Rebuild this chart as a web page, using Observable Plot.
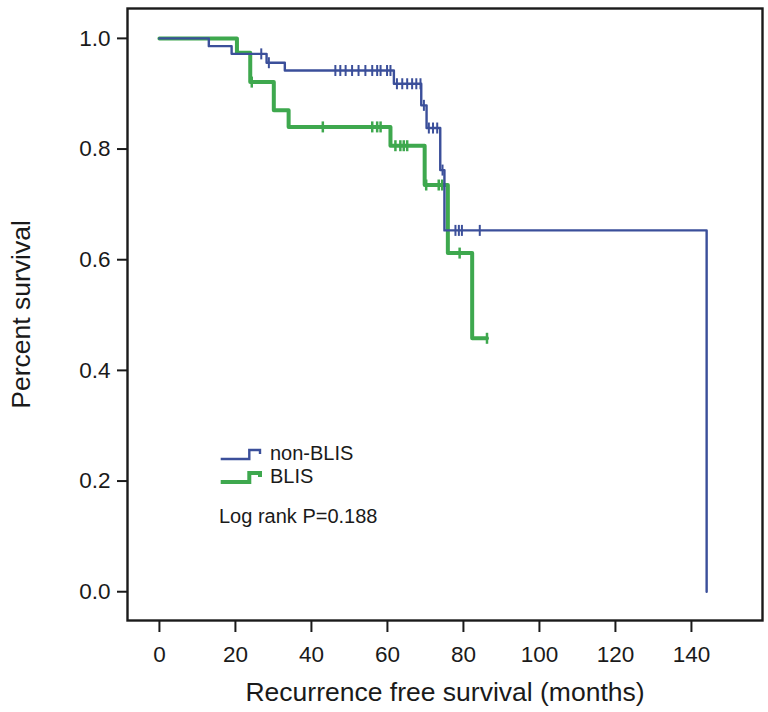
<!DOCTYPE html>
<html><head><meta charset="utf-8">
<script src="https://cdn.jsdelivr.net/npm/d3@7"></script>
<script src="https://cdn.jsdelivr.net/npm/@observablehq/plot@0.6"></script>
<style>
body{margin:0;background:#fff}
#wrap{position:relative;width:768px;height:712px}
</style>
</head><body><div id="wrap"></div>
<script>
// Kaplan–Meier step points (time in months, survival proportion)
const nonBlisT = [0, 13, 19, 28.2, 33, 61.7, 68.9, 70.3, 73.9, 75, 144];
const nonBlisS = [1, 0.986, 0.972, 0.956, 0.942, 0.918, 0.879, 0.838, 0.762, 0.653, 0];
const blisT = [0, 20.4, 23.9, 30.1, 34, 60.8, 69.8, 75.9, 82.3, 86.2];
const blisS = [1, 0.974, 0.921, 0.870, 0.840, 0.806, 0.735, 0.612, 0.458, 0.458];

// Censored observations
const nonBlisCensT = [26.8, 28.8, 46.3, 47.6, 49, 50.7, 52.4, 54.2, 56, 57.3, 58.2, 59.9, 60.8,
  62.5, 63.9, 65.2, 66.5, 67.6, 68.7, 69.6, 70.9, 72, 73.1, 74.5, 77.9, 78.8, 79.6, 84.3];
const nonBlisCensS = [0.972, 0.956, 0.942, 0.942, 0.942, 0.942, 0.942, 0.942, 0.942, 0.942, 0.942, 0.942, 0.942,
  0.918, 0.918, 0.918, 0.918, 0.918, 0.918, 0.879, 0.838, 0.838, 0.838, 0.762, 0.653, 0.653, 0.653, 0.653];
const blisCensT = [24.3, 43, 56, 57.3, 58.2, 62.1, 63.4, 64.3, 65.2, 70.2, 73.5, 74.4, 79, 86.2];
const blisCensS = [0.921, 0.84, 0.84, 0.84, 0.84, 0.806, 0.806, 0.806, 0.806, 0.735, 0.735, 0.735, 0.612, 0.458];

const groups = ["non-BLIS", "BLIS"];
const colors = ["#3b4f9a", "#3ea84e"];
const xTicks = [0, 20, 40, 60, 80, 100, 120, 140];
const yTicks = [0, 0.2, 0.4, 0.6, 0.8, 1.0];
const xTitle = "Recurrence free survival (months)";
const yTitle = "Percent survival";
const statText = "Log rank P=0.188";

const toRows = (T, S) => T.map((t, i) => ({t, s: S[i]}));
const blueLine = toRows(nonBlisT, nonBlisS);
const greenLine = toRows(blisT, blisS);
const blueCens = toRows(nonBlisCensT, nonBlisCensS);
const greenCens = toRows(blisCensT, blisCensS);

const vbar = {draw(ctx, size) { const r = Math.sqrt(size / Math.PI); ctx.moveTo(0, -r); ctx.lineTo(0, r); }};

const font = "'Liberation Sans', Arial, Helvetica, sans-serif";

const chart = Plot.plot({
  width: 768, height: 712,
  marginLeft: 127, marginRight: 6, marginTop: 8, marginBottom: 92,
  x: {domain: [-8.4, 158.7]},
  y: {domain: [-0.052, 1.054]},
  style: {fontFamily: font, background: "white", color: "#1a1a1a"},
  marks: [
    Plot.axisX({ticks: xTicks, tickSize: 12, tickPadding: 14, fontSize: 22.5, strokeWidth: 2, label: null}),
    Plot.axisY({ticks: yTicks, tickSize: 10, tickPadding: 7, fontSize: 22.5, strokeWidth: 2, tickFormat: d3.format(".1f"), label: null}),
    Plot.line(greenLine, {x: "t", y: "s", curve: "step-after", stroke: colors[1], strokeWidth: 4}),
    Plot.dot(greenCens, {x: "t", y: "s", symbol: vbar, r: 5.5, stroke: colors[1], strokeWidth: 2.5, fill: "none"}),
    Plot.line(blueLine, {x: "t", y: "s", curve: "step-after", stroke: colors[0], strokeWidth: 2.4}),
    Plot.dot(blueCens, {x: "t", y: "s", symbol: vbar, r: 5.5, stroke: colors[0], strokeWidth: 2, fill: "none"}),
    Plot.frame({stroke: "#1a1a1a", strokeWidth: 2.4}),
    Plot.text([xTitle], {frameAnchor: "bottom", dy: 72, fontSize: 26.5, textAnchor: "middle", lineAnchor: "middle"}),
    Plot.text([yTitle], {frameAnchor: "left", dx: -106, rotate: -90, fontSize: 26.5, textAnchor: "middle", lineAnchor: "middle"})
  ]
});
document.getElementById("wrap").appendChild(chart);

// Legend and statistic, drawn inside the plot's svg
const svg = d3.select(chart);
const lg = svg.append("g").attr("font-family", font).attr("fill", "#1a1a1a").attr("text-anchor", "start");
const legendRows = [{y: 459, w: 2.4}, {y: 482, w: 4}];
groups.forEach((g, i) => {
  const y0 = legendRows[i].y;
  lg.append("path")
    .attr("d", `M220.7,${y0}H249.3V${y0 - 9}H260V${y0 - 5}`)
    .attr("fill", "none").attr("stroke", colors[i]).attr("stroke-width", legendRows[i].w);
  lg.append("text").attr("x", 270).attr("y", y0 - 6).attr("dy", "0.35em")
    .attr("font-size", 20).attr("text-anchor", "start").text(g);
});
lg.append("text").attr("x", 219).attr("y", 516).attr("dy", "0.35em").attr("font-size", 20)
  .attr("text-anchor", "start").text(statText);
</script>
</body></html>
